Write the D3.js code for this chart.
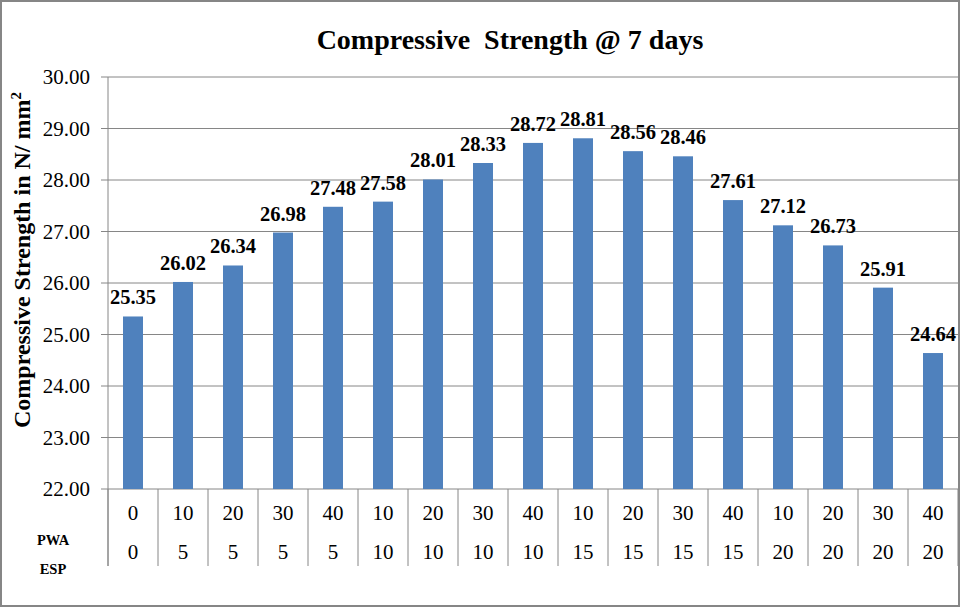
<!DOCTYPE html>
<html>
<head>
<meta charset="utf-8">
<script src="https://cdn.jsdelivr.net/npm/d3@7"></script>
<style>
  body { margin: 0; background: #fff; }
  svg { display: block; font-family: "Liberation Serif", "Times New Roman", serif; }
</style>
</head>
<body>
<svg id="chart" width="960" height="607"></svg>
<script>
// data
var pwa = ['0','10','20','30','40','10','20','30','40','10','20','30','40','10','20','30','40'];
var esp = ['0','5','5','5','5','10','10','10','10','15','15','15','15','20','20','20','20'];
var strength = [25.35,26.02,26.34,26.98,27.48,27.58,28.01,28.33,28.72,28.81,28.56,28.46,27.61,27.12,26.73,25.91,24.64];
var yTicks = [22,23,24,25,26,27,28,29,30];

var width = 960, height = 607;
var plotLeft = 108, plotRight = 958, plotTop = 77, plotBottom = 489, tableBottom = 566;

var svg = d3.select('#chart');

// outer frame
svg.append('rect')
  .attr('x', 1).attr('y', 1)
  .attr('width', width - 2).attr('height', height - 2)
  .attr('fill', 'none').attr('stroke', '#868686').attr('stroke-width', 2);

var idx = strength.map(function(d, i){ return i; });

var x = d3.scaleBand().domain(idx).range([plotLeft, plotRight]).paddingInner(0.6).paddingOuter(0.3);
var band = (plotRight - plotLeft) / idx.length;
var y = d3.scaleLinear().domain([22, 30]).range([plotBottom, plotTop]);

// gridlines
svg.append('g')
  .selectAll('line')
  .data(yTicks)
  .enter()
  .append('line')
  .attr('x1', plotLeft - 7).attr('x2', plotRight)
  .attr('y1', function(d){ return y(d); })
  .attr('y2', function(d){ return y(d); })
  .attr('stroke', '#868686').attr('stroke-width', 1);

// y axis
var yAxis = d3.axisLeft(y).tickValues(yTicks).tickFormat(d3.format('.2f')).tickSize(0).tickPadding(18);
var yg = svg.append('g').attr('transform', 'translate(' + plotLeft + ',0)').call(yAxis);
yg.select('.domain').remove();
yg.attr('font-family', null);
yg.selectAll('text')
  .attr('font-family', '"Liberation Serif", serif')
  .attr('font-size', 21)
  .attr('fill', '#000');

svg.append('line')
  .attr('x1', plotLeft).attr('x2', plotLeft)
  .attr('y1', plotTop).attr('y2', tableBottom)
  .attr('stroke', '#868686');

// bars
svg.append('g')
  .selectAll('rect')
  .data(strength)
  .enter()
  .append('rect')
  .attr('x', function(d, i){ return x(i); })
  .attr('width', x.bandwidth())
  .attr('y', function(d){ return y(d); })
  .attr('height', function(d){ return y(22) - y(d); })
  .attr('fill', '#4F81BD');

// data labels
svg.append('g')
  .selectAll('text')
  .data(strength)
  .enter()
  .append('text')
  .attr('x', function(d, i){ return x(i) + x.bandwidth() / 2; })
  .attr('y', function(d){ return y(d) - 12; })
  .attr('text-anchor', 'middle')
  .attr('font-size', 20.5)
  .attr('font-weight', 'bold')
  .text(function(d){ return d.toFixed(2); });

// category table separators
svg.append('g')
  .selectAll('line')
  .data(d3.range(idx.length + 1))
  .enter()
  .append('line')
  .attr('x1', function(i){ return plotLeft + i * band; })
  .attr('x2', function(i){ return plotLeft + i * band; })
  .attr('y1', plotBottom).attr('y2', tableBottom)
  .attr('stroke', '#868686');

// category rows
svg.append('g')
  .selectAll('text')
  .data(pwa)
  .enter()
  .append('text')
  .attr('x', function(d, i){ return x(i) + x.bandwidth() / 2; })
  .attr('y', 520)
  .attr('text-anchor', 'middle')
  .attr('font-size', 21)
  .text(function(d){ return d; });

svg.append('g')
  .selectAll('text')
  .data(esp)
  .enter()
  .append('text')
  .attr('x', function(d, i){ return x(i) + x.bandwidth() / 2; })
  .attr('y', 559)
  .attr('text-anchor', 'middle')
  .attr('font-size', 21)
  .text(function(d){ return d; });

svg.append('text')
  .attr('x', 53).attr('y', 545)
  .attr('text-anchor', 'middle')
  .attr('font-size', 14.5).attr('font-weight', 'bold')
  .text('PWA');
svg.append('text')
  .attr('x', 53).attr('y', 574)
  .attr('text-anchor', 'middle')
  .attr('font-size', 14.5).attr('font-weight', 'bold')
  .text('ESP');

// title
svg.append('text')
  .attr('x', 510).attr('y', 49)
  .attr('text-anchor', 'middle')
  .attr('font-size', 28).attr('font-weight', 'bold')
  .style('white-space', 'pre')
  .text('Compressive  Strength @ 7 days');

// y axis title
var yt = svg.append('text')
  .attr('transform', 'translate(30,260) rotate(-90)')
  .attr('text-anchor', 'middle')
  .attr('font-size', 24).attr('font-weight', 'bold');
yt.append('tspan').text('Compressive Strength in N/ mm');
yt.append('tspan').attr('dy', -9).attr('font-size', 15).text('2');
</script>
</body>
</html>
